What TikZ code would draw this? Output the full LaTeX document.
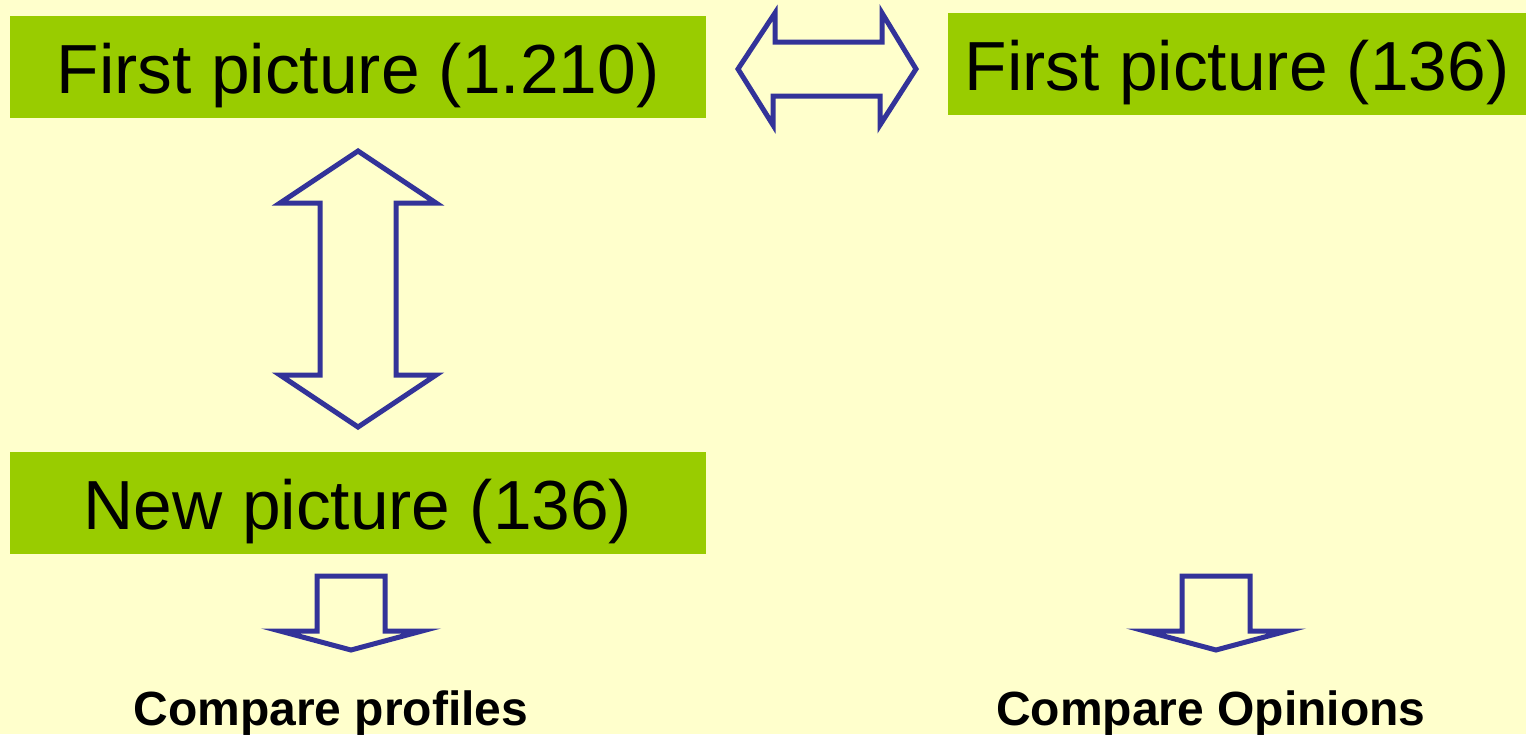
\documentclass[tikz,border=0pt]{standalone}
\usepackage{fontspec}
\setmainfont{Liberation Sans}
\usetikzlibrary{calc}
\definecolor{paper}{HTML}{FFFFCC}
\definecolor{leaf}{HTML}{99CC00}
\definecolor{ink}{HTML}{333399}
\begin{document}
\begin{tikzpicture}[x=1pt,y=-1pt,
  stage/.style={fill=leaf, inner sep=0pt, minimum height=102pt,
    text height=60pt, text depth=8pt,
    font=\fontsize{69.5}{80}\selectfont},
  blockarrow/.style={draw=ink, fill=paper, line width=5pt, line join=miter, miter limit=20},
  caption/.style={anchor=base, inner sep=0pt, font=\fontsize{48}{56}\selectfont\bfseries}
]
% page
\fill[paper] (0,0) rectangle (1526,734);
\useasboundingbox (0,0) rectangle (1526,734);

% picture stages
\node[stage, minimum width=696pt] (first) at (358,67) {First picture (1.210)};
\node[stage, minimum width=578pt] (firstr) at (1237,64) {First picture (136)};
\node[stage, minimum width=696pt] (new) at (358,503) {New picture (136)};

% comparison arrow between the two first pictures
\coordinate (h) at (827,69);
\draw[blockarrow] ($(h)+(-89,0)$) -- ++(37,-56) -- ++(0,29) -- ++(107,0) -- ++(0,-29)
  -- ($(h)+(89,0)$) -- ++(-36,56) -- ++(0,-29) -- ++(-107,0) -- ++(0,29) -- cycle;

% comparison arrow between first and new picture
\coordinate (v) at (358,289);
\draw[blockarrow] ($(v)+(0,-138)$) -- ++(78,52) -- ++(-40,0) -- ++(0,172) -- ++(40,0)
  -- ($(v)+(0,138)$) -- ++(-78,-52) -- ++(40,0) -- ++(0,-172) -- ++(-40,0) -- cycle;

% result arrows
\coordinate (dl) at (351,576);
\coordinate (dr) at (1216,576);
\foreach \c in {dl,dr}{
  \draw[blockarrow] ($(\c)+(-34,0)$) -- ++(68,0) -- ++(0,55) -- ++(37,0)
    -- ($(\c)+(0,74)$) -- ++(-71,-19) -- ++(37,0) -- cycle;
}

% results
\node[caption] (profiles) at (331,725) {Compare profiles};
\node[caption] (opinions) at (1211,725) {Compare Opinions};
\end{tikzpicture}
\end{document}
